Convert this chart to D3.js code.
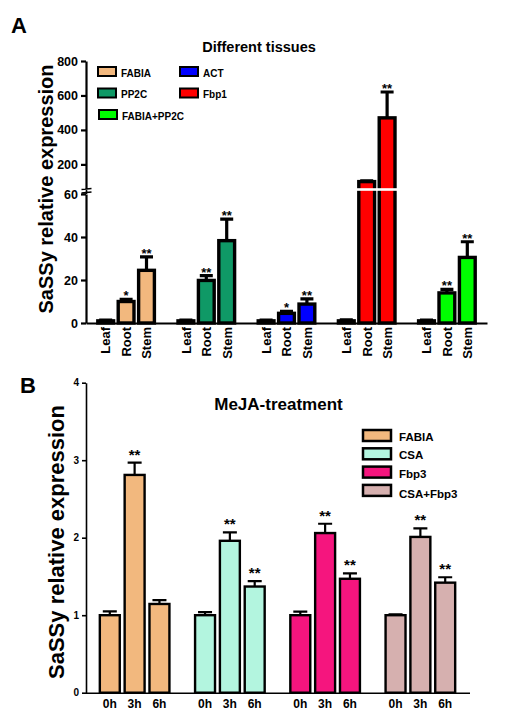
<!DOCTYPE html>
<html>
<head>
<meta charset="utf-8">
<script src="https://cdn.jsdelivr.net/npm/d3@7"></script>
<style>
body{margin:0;background:#fff}
text{font-family:"Liberation Sans",Arial,sans-serif;fill:#000}
</style>
</head>
<body>
<svg id="canvas"></svg>
<script>
// panel A : different tissues
let tissues = ['Leaf', 'Root', 'Stem']
let genesA = ['FABIA', 'PP2C', 'ACT', 'Fbp1', 'FABIA+PP2C']
let colorsA = ['#f2b87e', '#0f9966', '#0000ff', '#ff0000', '#00ff00']
let meanA = [[1, 10, 24.5], [1, 19.8, 38.3], [1, 4.5, 8.8], [1, 100, 470], [1, 14, 30.5]]
let errA = [[0.3, 1, 6.3], [0.3, 2.2, 10], [0.3, 0.9, 2.4], [0.5, 4, 150], [0.3, 1.6, 7.3]]
let starsA = [['', '*', '**'], ['', '**', '**'], ['', '*', '**'], ['', '', '**'], ['', '**', '**']]
let lowTicksA = [0, 20, 40, 60]
let highTicksA = [200, 400, 600, 800]

// panel B : MeJA treatment
let times = ['0h', '3h', '6h']
let genesB = ['FABIA', 'CSA', 'Fbp3', 'CSA+Fbp3']
let colorsB = ['#f2b87e', '#b3f5df', '#f5157e', '#d6b0af']
let meanB = [[1, 2.81, 1.145], [1, 1.96, 1.37], [1, 2.06, 1.47], [1, 2.01, 1.42]]
let errB = [[0.05, 0.16, 0.05], [0.04, 0.11, 0.07], [0.045, 0.12, 0.07], [0.01, 0.11, 0.07]]
let starsB = [['', '**', ''], ['', '**', '**'], ['', '**', '**'], ['', '**', '**']]
let ticksB = [0, 1, 2, 3, 4]

let width = 506
let height = 723

let svg = d3.select('#canvas')
            .attr('width', width)
            .attr('height', height)

let styleAxis = (g, w, fs) => {
    g.select('.domain').attr('stroke-width', w)
    g.selectAll('.tick line').attr('stroke-width', w)
    g.selectAll('.tick text')
        .style('font-family', '"Liberation Sans",Arial,sans-serif')
        .style('font-weight', 'bold')
        .style('font-size', fs + 'px')
}

// ---------- panel A ----------
let drawA = () => {
    let yLow = d3.scaleLinear().domain([0, 60]).range([323, 194])
    let yHigh = d3.scaleLinear().domain([60, 800]).range([188.5, 61])
    let y = (v) => v <= 60 ? yLow(v) : yHigh(v)

    let x = d3.scaleBand().domain(genesA).range([86, 487])
    let xIn = d3.scaleBand().domain(tissues).range([-30, 30]).paddingInner(0.06)
    let bw = xIn.bandwidth()
    let cx = (g, t) => x(g) + x.bandwidth() / 2 + xIn(t) + bw / 2

    let rows = []
    genesA.forEach((g, gi) => {
        tissues.forEach((t, ti) => {
            rows.push({g: g, t: t, v: meanA[gi][ti], e: errA[gi][ti], s: starsA[gi][ti], c: colorsA[gi]})
        })
    })

    let plot = svg.append('g')

    // error bars
    plot.selectAll('.errA').data(rows).enter().append('path')
        .attr('d', d => {
            let xc = cx(d.g, d.t), yt = y(d.v + d.e)
            return 'M' + xc + ',' + y(d.v) + 'V' + yt + 'M' + (xc - 6.5) + ',' + yt + 'H' + (xc + 6.5)
        })
        .attr('stroke', '#000')
        .attr('stroke-width', 3.2)
        .attr('fill', 'none')

    plot.selectAll('.barA').data(rows).enter().append('rect')
        .attr('x', d => cx(d.g, d.t) - (bw - 3.4) / 2)
        .attr('width', bw - 3.4)
        .attr('y', d => y(d.v))
        .attr('height', d => y(0) - y(d.v))
        .attr('fill', d => d.c)
        .attr('stroke', '#000')
        .attr('stroke-width', 3.4)

    // white break stripe across tall bars
    plot.selectAll('.gapA').data(rows.filter(d => d.v > 60)).enter().append('rect')
        .attr('x', d => cx(d.g, d.t) - bw / 2 - 1)
        .attr('width', bw + 2)
        .attr('y', 188.2)
        .attr('height', 2.6)
        .attr('fill', '#fff')

    plot.selectAll('.starA').data(rows.filter(d => d.s)).enter().append('text')
        .attr('x', d => cx(d.g, d.t))
        .attr('y', d => y(d.v + d.e) + 1)
        .attr('text-anchor', 'middle')
        .style('font-size', '13px').style('font-weight', 'bold')
        .text(d => d.s)

    // axes
    svg.append('g').attr('transform', 'translate(86,0)')
        .call(d3.axisLeft(yLow).tickValues(lowTicksA).tickSize(5).tickSizeOuter(0))
        .call(g => styleAxis(g, 2.2, 12.5))
    svg.append('g').attr('transform', 'translate(86,0)')
        .call(d3.axisLeft(yHigh).tickValues(highTicksA).tickSize(5).tickSizeOuter(0))
        .call(g => styleAxis(g, 2.2, 12.5))
    svg.append('path')
        .attr('d', 'M86.5,188V194M81.5,189.5L91.5,188.5M81.5,193L91.5,192')
        .attr('stroke', '#000').attr('stroke-width', 1.6)

    svg.append('g').attr('transform', 'translate(0,323)')
        .call(d3.axisBottom(x).tickSize(0).tickFormat(''))
        .call(g => g.select('.domain').attr('stroke-width', 2.2))

    plot.selectAll('.labA').data(rows).enter().append('text')
        .attr('transform', d => 'translate(' + (cx(d.g, d.t) + 4.8) + ',327) rotate(-90)')
        .attr('text-anchor', 'end')
        .style('font-size', '13px')
        .style('font-weight', 'bold')
        .text(d => d.t)

    // legend
    let slotX = [98, 98, 180, 180, 99]
    let slotY = [67, 88.5, 67, 88.5, 110]
    let leg = svg.append('g').selectAll('g').data(genesA).enter().append('g')
        .attr('transform', (d, i) => 'translate(' + slotX[i] + ',' + slotY[i] + ')')
    leg.append('rect')
        .attr('width', 18).attr('height', 9)
        .attr('fill', (d, i) => colorsA[i])
        .attr('stroke', '#000').attr('stroke-width', 2)
    leg.append('text')
        .attr('x', 23).attr('y', 9.5)
        .style('font-size', '10px').style('font-weight', 'bold')
        .text(d => d)

    svg.append('text').attr('x', 259).attr('y', 52)
        .attr('text-anchor', 'middle')
        .style('font-size', '14.5px').style('font-weight', 'bold')
        .text('Different tissues')
    svg.append('text').attr('x', 11).attr('y', 33)
        .style('font-size', '22px').style('font-weight', 'bold')
        .text('A')
    svg.append('text')
        .attr('transform', 'translate(53,189) rotate(-90)')
        .attr('text-anchor', 'middle')
        .style('font-size', '20px').style('font-weight', 'bold')
        .text('SaSSy relative expression')
}

// ---------- panel B ----------
let drawB = () => {
    let y = d3.scaleLinear().domain([0, 4]).range([692.7, 382.7])
    let x = d3.scaleBand().domain(genesB).range([87, 468])
    let xIn = d3.scaleBand().domain(times).range([-36, 36]).paddingInner(0.1)
    let bw = xIn.bandwidth()
    let cx = (g, t) => x(g) + x.bandwidth() / 2 + xIn(t) + bw / 2

    let rows = []
    genesB.forEach((g, gi) => {
        times.forEach((t, ti) => {
            rows.push({g: g, t: t, v: meanB[gi][ti], e: errB[gi][ti], s: starsB[gi][ti], c: colorsB[gi]})
        })
    })

    let plot = svg.append('g')

    plot.selectAll('.errB').data(rows).enter().append('path')
        .attr('d', d => {
            let xc = cx(d.g, d.t), yt = y(d.v + d.e)
            return 'M' + xc + ',' + y(d.v) + 'V' + yt + 'M' + (xc - 7) + ',' + yt + 'H' + (xc + 7)
        })
        .attr('stroke', '#000')
        .attr('stroke-width', 2.2)
        .attr('fill', 'none')

    plot.selectAll('.barB').data(rows).enter().append('rect')
        .attr('x', d => cx(d.g, d.t) - (bw - 2.4) / 2)
        .attr('width', bw - 2.4)
        .attr('y', d => y(d.v))
        .attr('height', d => y(0) - y(d.v))
        .attr('fill', d => d.c)
        .attr('stroke', '#000')
        .attr('stroke-width', 2.4)

    plot.selectAll('.starB').data(rows.filter(d => d.s)).enter().append('text')
        .attr('x', d => cx(d.g, d.t))
        .attr('y', d => y(d.v + d.e) - 3)
        .attr('text-anchor', 'middle')
        .style('font-size', '15px').style('font-weight', 'bold')
        .text(d => d.s)

    svg.append('g').attr('transform', 'translate(86,0)')
        .call(d3.axisLeft(y).tickValues(ticksB).tickFormat(d3.format('d')).tickSize(4).tickSizeOuter(0))
        .call(g => styleAxis(g, 1.6, 10))

    svg.append('g').attr('transform', 'translate(0,692.7)')
        .call(d3.axisBottom(x).tickSize(0).tickFormat(''))
        .call(g => g.select('.domain').attr('d', 'M86,0.5H470').attr('stroke-width', 1.6))

    plot.selectAll('.labB').data(rows).enter().append('text')
        .attr('x', d => cx(d.g, d.t))
        .attr('y', 708)
        .attr('text-anchor', 'middle')
        .style('font-size', '12px').style('font-weight', 'bold')
        .text(d => d.t)

    let leg = svg.append('g').selectAll('g').data(genesB).enter().append('g')
        .attr('transform', (d, i) => 'translate(363,' + (430 + i * 18.3) + ')')
    leg.append('rect')
        .attr('width', 28).attr('height', 11)
        .attr('fill', (d, i) => colorsB[i])
        .attr('stroke', '#000').attr('stroke-width', 2.5)
    leg.append('text')
        .attr('x', 36).attr('y', (d, i) => 11 + (i === 3 ? 2 : 0))
        .style('font-size', '11.5px').style('font-weight', 'bold')
        .text(d => d)

    svg.append('text').attr('x', 278.5).attr('y', 410)
        .attr('text-anchor', 'middle')
        .style('font-size', '17px').style('font-weight', 'bold')
        .text('MeJA-treatment')
    svg.append('text').attr('x', 20).attr('y', 393)
        .style('font-size', '22px').style('font-weight', 'bold')
        .text('B')
    svg.append('text')
        .attr('transform', 'translate(64,542) rotate(-90)')
        .attr('text-anchor', 'middle')
        .style('font-size', '22px').style('font-weight', 'bold')
        .text('SaSSy relative expression')
}

drawA()
drawB()
</script>
</body>
</html>
